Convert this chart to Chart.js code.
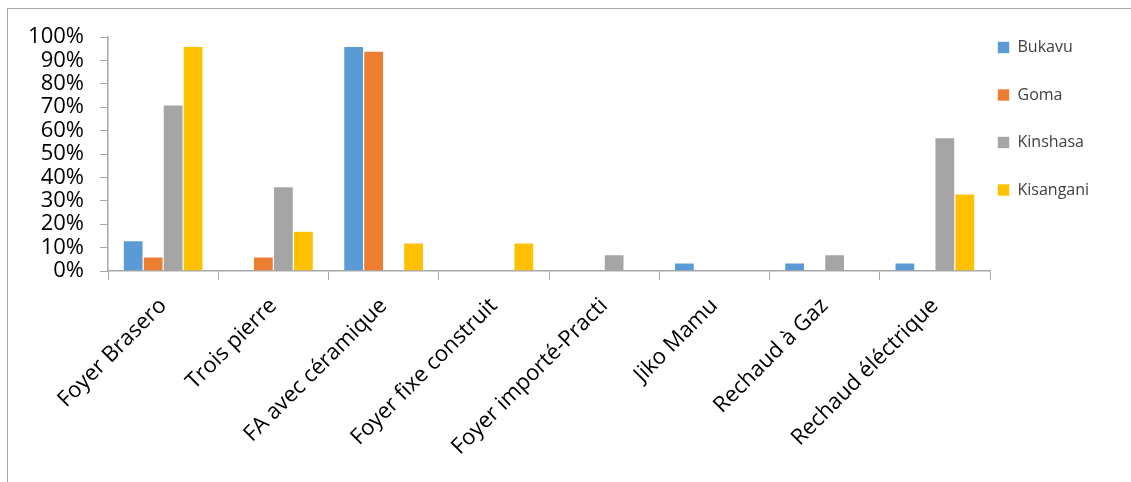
<!DOCTYPE html>
<html>
<head>
<meta charset="utf-8">
<script src="https://cdn.jsdelivr.net/npm/chart.js@4.4.0/dist/chart.umd.min.js"></script>
<style>
html,body{margin:0;padding:0;background:#fff;}
#wrap{position:relative;width:1131px;height:482px;}
</style>
</head>
<body>
<div id="wrap"><canvas id="c" width="1131" height="482"></canvas></div>
<script>
const categories = ["Foyer Brasero","Trois pierre","FA avec céramique","Foyer fixe construit","Foyer importé-Practi","Jiko Mamu","Rechaud à Gaz","Rechaud éléctrique"];
const seriesNames = ["Bukavu","Goma","Kinshasa","Kisangani"];
const bukavu    = [13, 0, 96, 0, 0, 3.5, 3.5, 3.5];
const goma      = [6, 6, 94, 0, 0, 0, 0, 0];
const kinshasa  = [71, 36, 0, 0, 7, 0, 7, 57];
const kisangani = [96, 17, 12, 12, 0, 0, 0, 33];
const yTicks = [0,10,20,30,40,50,60,70,80,90,100];
const colors = ["#5B9BD5","#ED7D31","#A5A5A5","#FFC000"];

const FONT = "'Open Sans', 'Noto Sans', sans-serif";
const seriesValues = [bukavu, goma, kinshasa, kisangani];

const framePlugin = {
  id: 'frame',
  beforeDraw(chart) {
    const ctx = chart.ctx;
    ctx.save();
    ctx.fillStyle = '#fff';
    ctx.fillRect(0,0,chart.width,chart.height);
    ctx.strokeStyle = '#a6a6a6';
    ctx.lineWidth = 1;
    ctx.strokeRect(7.5, 8.5, 1140, 500);
    ctx.restore();
  }
};

const LEGEND_W = 141;
const legendFix = {
  id: 'legendFix',
  afterInit(chart) {
    const lg = chart.legend;
    if (lg && !lg._patched) {
      const orig = lg.fit.bind(lg);
      lg.fit = function() { orig(); this.width = LEGEND_W; };
      lg._patched = true;
    }
  },
  afterLayout(chart) {
    const lg = chart.legend;
    if (!lg) return;
    const h = lg.height;
    lg.left = 966; lg.right = lg.left + LEGEND_W;
    lg.top = 8; lg.bottom = lg.top + h;
  }
};

new Chart(document.getElementById('c'), {
  type: 'bar',
  data: {
    labels: categories,
    datasets: seriesNames.map((n,i) => ({
      label: n,
      data: seriesValues[i],
      backgroundColor: colors[i],
      borderColor: '#ffffff',
      borderWidth: 0.6,
      categoryPercentage: 0.725,
      barPercentage: 1.0
    }))
  },
  options: {
    responsive: false,
    animation: false,
    devicePixelRatio: 1,
    layout: { padding: { left: 8, top: 37, right: 0, bottom: 0 } },
    plugins: {
      legend: {
        position: 'right',
        align: 'start',
        labels: {
          boxWidth: 12, boxHeight: 12,
          padding: 31.5,
          color: '#404040',
          font: { family: FONT, size: 16 }
        }
      },
      tooltip: { enabled: false }
    },
    scales: {
      x: {
        grid: { display: true, drawOnChartArea: false, offset: true, color: '#a6a6a6', tickLength: 9 },
        border: { color: '#a6a6a6', width: 1.5 },
        ticks: { color: '#000', font: { family: FONT, size: 22 }, maxRotation: 45, minRotation: 45, autoSkip: false, padding: 13 },
        afterFit(scale) { scale.height = 482 - 271; }
      },
      y: {
        min: 0, max: 100,
        afterBuildTicks(scale) { scale.ticks = yTicks.map(v => ({ value: v })); },
        grid: { display: true, drawOnChartArea: false, color: '#a6a6a6', tickLength: 8 },
        border: { color: '#a6a6a6', width: 1.5 },
        ticks: { color: '#000', font: { family: FONT, size: 22 }, padding: 16, autoSkip: false, callback: v => v + '%' },
        afterFit(scale) { scale.width = 100; }
      }
    }
  },
  plugins: [framePlugin, legendFix]
});
</script>
</body>
</html>
